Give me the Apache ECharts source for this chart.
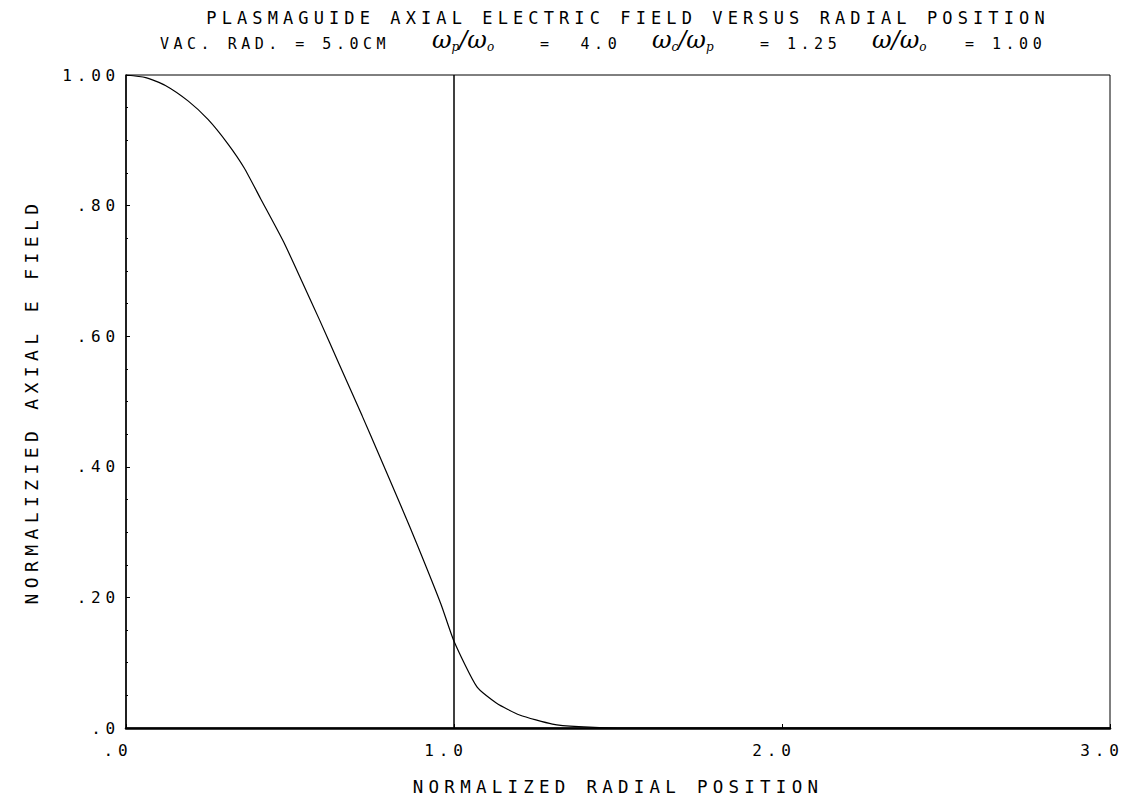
<!DOCTYPE html>
<html>
<head>
<meta charset="utf-8">
<script src="https://cdn.jsdelivr.net/npm/echarts@6/dist/echarts.min.js"></script>
<style>
  html, body { margin: 0; padding: 0; background: #fff; }
  #chart { width: 1130px; height: 807px; }
  /* plotter lettering is widely spaced */
  #chart text { letter-spacing: 0.3em; }
</style>
</head>
<body>
<div id="chart"></div>
<script>
// normalized radial position (r / a)
const radialPos = [0, 0.06, 0.12, 0.19, 0.25, 0.31, 0.36, 0.41, 0.48, 0.54, 0.59, 0.65,
  0.72, 0.77, 0.84, 0.89, 0.96, 1.0, 1.07, 1.13, 1.2, 1.3, 1.38, 1.5, 2.0, 2.5, 3.0];
// normalized axial E field
const fieldVals = [1.0, 0.996, 0.984, 0.96, 0.932, 0.895, 0.858, 0.811, 0.745, 0.68, 0.625, 0.557,
  0.478, 0.42, 0.338, 0.278, 0.19, 0.133, 0.063, 0.038, 0.02, 0.006, 0.002, 0, 0, 0, 0];

const xTickLabels = { 0: '.0', 1: '1.0', 2: '2.0', 3: '3.0' };
const yTickLabels = { 0: '.0', 0.2: '.20', 0.4: '.40', 0.6: '.60', 0.8: '.80', 1: '1.00' };
const plasmaEdge = 1.0;

const mono = 'DejaVu Sans Mono';
const chart = echarts.init(document.getElementById('chart'), null, { renderer: 'svg' });

const omega = {
  w: { fontFamily: 'DejaVu Serif', fontStyle: 'italic', fontSize: 24, color: '#000' },
  s: { fontFamily: 'DejaVu Serif', fontStyle: 'italic', fontSize: 12, color: '#000', padding: [14, 0, 0, 0] }
};
function txt(x, str, size) {
  return { type: 'text', left: x, top: 36, style: { text: str, font: size + 'px ' + mono, fill: '#000' } };
}

const option = {
  backgroundColor: '#fff',
  animation: false,
  grid: { left: 126, right: 20, top: 75, bottom: 79, show: true, borderColor: '#000', borderWidth: 1 },
  graphic: [
    { type: 'text', x: 628, y: 18, style: { text: 'PLASMAGUIDE AXIAL ELECTRIC FIELD VERSUS RADIAL POSITION',
      font: '17px ' + mono, fill: '#000', align: 'center', verticalAlign: 'middle' } },
    txt(160, 'VAC. RAD. = 5.0CM', 15),
    { type: 'text', left: 432, top: 28, style: { text: '{w|ω}{s|p}{w|/ω}{s|o}', rich: omega } },
    txt(540, '=  4.0', 15),
    { type: 'text', left: 652, top: 28, style: { text: '{w|ω}{s|c}{w|/ω}{s|p}', rich: omega } },
    txt(760, '= 1.25', 15),
    { type: 'text', left: 872, top: 28, style: { text: '{w|ω/ω}{s|o}', rich: omega } },
    txt(965, '= 1.00', 15)
  ],
  xAxis: {
    type: 'value', min: 0, max: 3, interval: 1,
    name: 'NORMALIZED RADIAL POSITION', nameLocation: 'middle', nameGap: 50,
    nameTextStyle: { fontFamily: mono, fontSize: 17.5, color: '#000' },
    axisLine: { lineStyle: { color: '#000', width: 2.5 } },
    axisTick: { inside: true, length: 4, lineStyle: { color: '#000' } },
    axisLabel: { fontFamily: mono, fontSize: 16, color: '#000', margin: 14, padding: [0, 16, 0, 0],
      formatter: v => xTickLabels[v] ?? '' },
    splitLine: { show: false }
  },
  yAxis: {
    type: 'value', min: 0, max: 1, interval: 0.2,
    name: 'NORMALIZIED AXIAL E FIELD', nameLocation: 'middle', nameGap: 86, nameRotate: 90,
    nameTextStyle: { fontFamily: mono, fontSize: 18, color: '#000' },
    axisLine: { lineStyle: { color: '#000', width: 1.5 } },
    axisTick: { inside: true, length: 4, lineStyle: { color: '#000' } },
    minorTick: { show: true, splitNumber: 4, length: 2, lineStyle: { color: '#000' } },
    axisLabel: { fontFamily: mono, fontSize: 16, color: '#000', margin: 6,
      formatter: v => yTickLabels[Math.round(v * 10) / 10] ?? '' },
    splitLine: { show: false }
  },
  series: [{
    type: 'line',
    data: radialPos.map((r, i) => [r, fieldVals[i]]),
    showSymbol: false,
    smooth: 0.2,
    lineStyle: { color: '#000', width: 1.2 },
    markLine: {
      silent: true, symbol: 'none', label: { show: false },
      lineStyle: { color: '#000', type: 'solid', width: 1.5 },
      data: [{ xAxis: plasmaEdge }]
    }
  }]
};

chart.setOption(option);

// no extra spacing for the hand-lettered omega ratios
document.querySelectorAll('#chart text').forEach(t => {
  if (getComputedStyle(t).fontFamily.includes('Serif')) t.style.letterSpacing = '0';
});
</script>
</body>
</html>
